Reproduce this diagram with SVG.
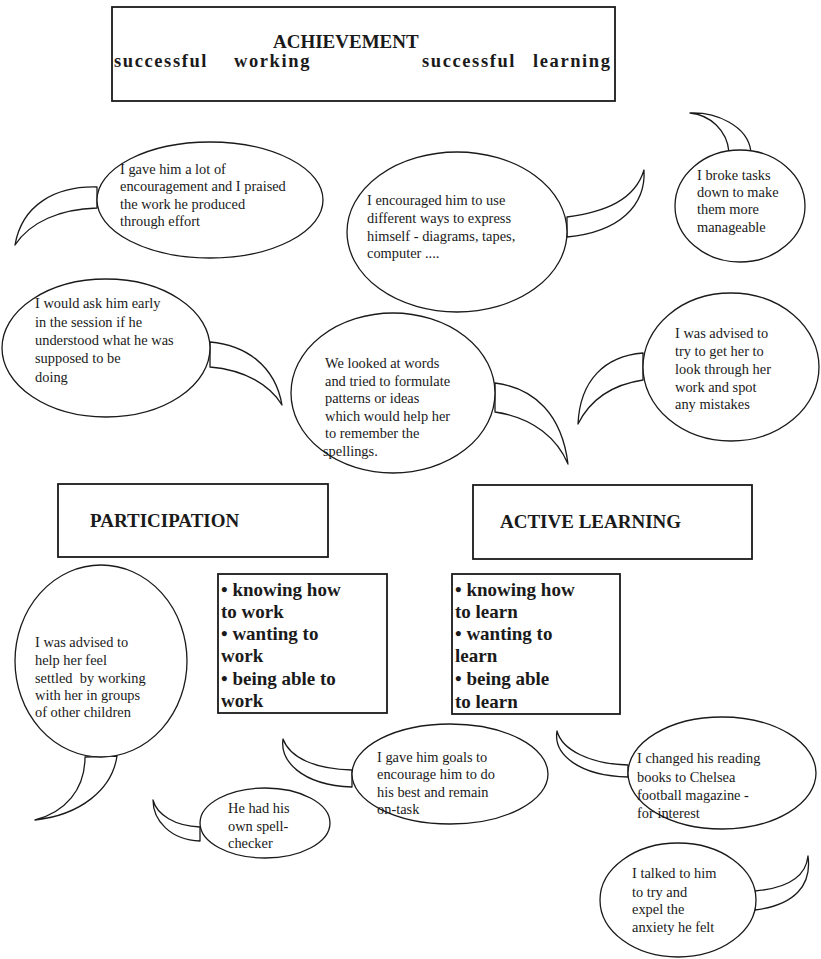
<svg xmlns="http://www.w3.org/2000/svg" width="821" height="959" viewBox="0 0 821 959">
  <style>
    .bg { fill: #ffffff; }
    .box { fill: #ffffff; stroke: #1a1a1a; stroke-width: 1.8; }
    .bubble { fill: #ffffff; stroke: #1a1a1a; stroke-width: 1.3; }
    .tail { fill: #ffffff; stroke: #1a1a1a; stroke-width: 1.3; stroke-linejoin: round; }
    .title { font-family: "Liberation Serif", "Times New Roman", serif; font-weight: bold; font-size: 19px; fill: #1a1a1a; }
    .sub { font-family: "Liberation Serif", "Times New Roman", serif; font-weight: bold; font-size: 18.5px; letter-spacing: 1.6px; fill: #1a1a1a; }
    .list { font-family: "Liberation Serif", "Times New Roman", serif; font-weight: bold; font-size: 19px; fill: #1a1a1a; }
    .note { font-family: "Liberation Serif", "Times New Roman", serif; font-size: 14.4px; fill: #1a1a1a; white-space: pre; }
  </style>

  <rect class="bg" x="0" y="0" width="821" height="959"/>

  <!-- Heading box -->
  <g id="achievement">
    <rect class="box" x="112" y="7" width="503" height="94"/>
    <text class="title" x="273" y="48">ACHIEVEMENT</text>
    <text class="sub" x="114" y="67">successful</text>
    <text class="sub" x="234" y="67">working</text>
    <text class="sub" x="422" y="67">successful</text>
    <text class="sub" x="533" y="67">learning</text>
  </g>

  <!-- Speech bubbles, upper half -->
  <g id="bubble-encouragement">
    <path class="tail" d="M97,187 C55,186 22,205 15,245 C30,222 60,209 97,208 Z"/>
    <ellipse class="bubble" cx="210" cy="200" rx="113" ry="58"/>
    <text class="note" x="120" y="174">I gave him a lot of</text>
    <text class="note" x="120" y="191">encouragement and I praised</text>
    <text class="note" x="120" y="209">the work he produced</text>
    <text class="note" x="120" y="226">through effort</text>
  </g>

  <g id="bubble-express">
    <path class="tail" d="M567,217 C605,212 635,200 644,170 C646,205 620,232 567,237 Z"/>
    <ellipse class="bubble" cx="457" cy="232" rx="110" ry="80"/>
    <text class="note" x="367" y="205">I encouraged him to use</text>
    <text class="note" x="367" y="223">different ways to express</text>
    <text class="note" x="367" y="241">himself - diagrams, tapes,</text>
    <text class="note" x="367" y="258">computer ....</text>
  </g>

  <g id="bubble-tasks">
    <path class="tail" d="M729,152 C727,130 710,115 690,113 C715,112 748,125 751,152 Z"/>
    <ellipse class="bubble" cx="740" cy="206" rx="65" ry="56"/>
    <text class="note" x="697" y="180">I broke tasks</text>
    <text class="note" x="697" y="197">down to make</text>
    <text class="note" x="697" y="214">them more</text>
    <text class="note" x="697" y="232">manageable</text>
  </g>

  <g id="bubble-session">
    <path class="tail" d="M210,342 C245,345 275,365 282,405 C270,385 245,370 210,367 Z"/>
    <ellipse class="bubble" cx="106" cy="348" rx="104" ry="69"/>
    <text class="note" x="35" y="308">I would ask him early</text>
    <text class="note" x="35" y="327">in the session if he</text>
    <text class="note" x="35" y="345">understood what he was</text>
    <text class="note" x="35" y="363">supposed to be</text>
    <text class="note" x="35" y="382">doing</text>
  </g>

  <g id="bubble-spellings">
    <path class="tail" d="M495,383 C535,388 562,415 568,464 C558,440 535,418 495,412 Z"/>
    <ellipse class="bubble" cx="393" cy="393" rx="102" ry="80"/>
    <text class="note" x="325" y="368">We looked at words</text>
    <text class="note" x="325" y="386">and tried to formulate</text>
    <text class="note" x="325" y="403">patterns or ideas</text>
    <text class="note" x="325" y="421">which would help her</text>
    <text class="note" x="325" y="438">to remember the</text>
    <text class="note" x="323" y="456">spellings.</text>
  </g>

  <g id="bubble-mistakes">
    <path class="tail" d="M643,353 C605,356 580,380 578,424 C590,400 610,385 643,380 Z"/>
    <ellipse class="bubble" cx="731" cy="367" rx="88" ry="74"/>
    <text class="note" x="675" y="338">I was advised to</text>
    <text class="note" x="675" y="356">try to get her to</text>
    <text class="note" x="675" y="374">look through her</text>
    <text class="note" x="675" y="392">work and spot</text>
    <text class="note" x="675" y="409">any mistakes</text>
  </g>

  <!-- Category boxes -->
  <g id="participation">
    <rect class="box" x="58" y="484" width="270" height="73"/>
    <text class="title" x="90" y="527">PARTICIPATION</text>
  </g>

  <g id="active-learning">
    <rect class="box" x="473" y="485" width="279" height="74"/>
    <text class="title" x="500" y="528">ACTIVE LEARNING</text>
  </g>

  <g id="work-list">
    <rect class="box" x="218" y="574" width="169" height="139"/>
    <text class="list" x="221" y="596">• knowing how</text>
    <text class="list" x="221" y="618">to work</text>
    <text class="list" x="221" y="640">• wanting to</text>
    <text class="list" x="221" y="662">work</text>
    <text class="list" x="221" y="685">• being able to</text>
    <text class="list" x="221" y="707">work</text>
  </g>

  <g id="learn-list">
    <rect class="box" x="452" y="574" width="168" height="140"/>
    <text class="list" x="455" y="596">• knowing how</text>
    <text class="list" x="455" y="618">to learn</text>
    <text class="list" x="455" y="640">• wanting to</text>
    <text class="list" x="455" y="662">learn</text>
    <text class="list" x="455" y="685">• being able</text>
    <text class="list" x="455" y="708">to learn</text>
  </g>

  <!-- Speech bubbles, lower half -->
  <g id="bubble-groups">
    <path class="tail" d="M85,757 C85,790 65,812 35,820 C80,815 112,790 117,756 Z"/>
    <ellipse class="bubble" cx="101" cy="661" rx="86" ry="96"/>
    <text class="note" x="35" y="647">I was advised to</text>
    <text class="note" x="35" y="665">help her feel</text>
    <text class="note" x="35" y="683">settled  by working</text>
    <text class="note" x="35" y="700">with her in groups</text>
    <text class="note" x="35" y="717">of other children</text>
  </g>

  <g id="bubble-spellchecker">
    <path class="tail" d="M200,827 C175,826 157,815 153,800 C153,820 170,840 200,841 Z"/>
    <ellipse class="bubble" cx="265" cy="823" rx="65" ry="35"/>
    <text class="note" x="228" y="813">He had his</text>
    <text class="note" x="228" y="831">own spell-</text>
    <text class="note" x="228" y="848">checker</text>
  </g>

  <g id="bubble-goals">
    <path class="tail" d="M352,770 C315,769 290,758 283,739 C280,760 300,785 352,787 Z"/>
    <ellipse class="bubble" cx="450" cy="774" rx="98" ry="50"/>
    <text class="note" x="377" y="762">I gave him goals to</text>
    <text class="note" x="377" y="779">encourage him to do</text>
    <text class="note" x="377" y="797">his best and remain</text>
    <text class="note" x="377" y="814">on-task</text>
  </g>

  <g id="bubble-reading">
    <path class="tail" d="M628,765 C590,764 562,750 557,731 C553,755 580,776 628,777 Z"/>
    <ellipse class="bubble" cx="722" cy="773" rx="94" ry="56"/>
    <text class="note" x="637" y="763">I changed his reading</text>
    <text class="note" x="637" y="782">books to Chelsea</text>
    <text class="note" x="637" y="800">football magazine -</text>
    <text class="note" x="637" y="818">for interest</text>
  </g>

  <g id="bubble-anxiety">
    <path class="tail" d="M755,891 C790,888 806,875 808,856 C812,885 795,905 755,910 Z"/>
    <ellipse class="bubble" cx="678" cy="900" rx="78" ry="57"/>
    <text class="note" x="632" y="878">I talked to him</text>
    <text class="note" x="632" y="897">to try and</text>
    <text class="note" x="632" y="914">expel the</text>
    <text class="note" x="632" y="932">anxiety he felt</text>
  </g>
</svg>
